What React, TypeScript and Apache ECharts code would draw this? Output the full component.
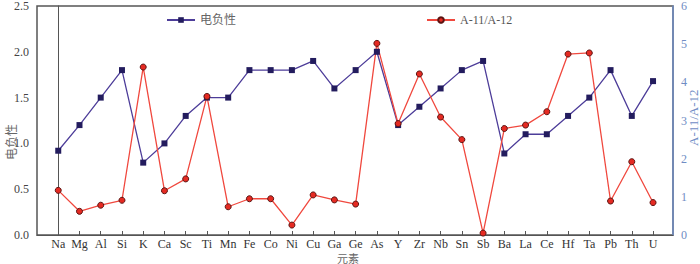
import React, { useEffect, useRef } from "react";
import * as echarts from "echarts";

const elements = ["Na","Mg","Al","Si","K","Ca","Sc","Ti","Mn","Fe","Co","Ni","Cu","Ga","Ge","As","Y","Zr","Nb","Sn","Sb","Ba","La","Ce","Hf","Ta","Pb","Th","U"];
const electronegativity = [0.92,1.2,1.5,1.8,0.79,1.0,1.3,1.5,1.5,1.8,1.8,1.8,1.9,1.6,1.8,2.0,1.2,1.4,1.6,1.8,1.9,0.89,1.1,1.1,1.3,1.5,1.8,1.3,1.68];
const ratioA11A12 = [1.17,0.62,0.78,0.91,4.40,1.16,1.47,3.63,0.74,0.95,0.95,0.26,1.05,0.92,0.81,5.02,2.92,4.22,3.09,2.5,0.05,2.79,2.88,3.23,4.74,4.77,0.89,1.92,0.85];

const SERIF = "'Liberation Serif', 'Noto Sans CJK SC', serif";

export default function App() {
  const ref = useRef<HTMLDivElement>(null);
  useEffect(() => {
    if (!ref.current) return;
    const chart = echarts.init(ref.current, null, { renderer: "svg" });
    const idx = elements.map((_, i) => i);
    chart.setOption({
      animation: false,
      backgroundColor: "#ffffff",
      grid: { left: 37, right: 27, top: 1, bottom: 29, show: true, borderColor: "#555", borderWidth: 1.5 },
      legend: [
        {
          data: ["电负性"], left: 161, top: 9, itemWidth: 28, itemHeight: 7, itemGap: 4,
          textStyle: { color: "#666", fontSize: 12, fontFamily: SERIF },
        },
        {
          data: ["A-11/A-12"], left: 421, top: 9, itemWidth: 28, itemHeight: 7, itemGap: 4,
          textStyle: { color: "#555", fontSize: 12, fontFamily: SERIF },
        },
      ],
      xAxis: {
        type: "value",
        min: -1,
        max: 28.94,
        splitLine: { show: false },
        axisLine: { lineStyle: { color: "#555" } },
        axisTick: { show: true, inside: true, length: 4, customValues: idx, lineStyle: { color: "#555" } },
        axisLabel: {
          customValues: idx,
          formatter: (v: number) => elements[Math.round(v)] ?? "",
          color: "#333", fontSize: 12, lineHeight: 12, fontFamily: SERIF, margin: 3,
        },
      },
      yAxis: [
        {
          type: "value", min: 0, max: 2.5, interval: 0.5,
          splitLine: { show: false },
          axisLine: { show: true, lineStyle: { color: "#555" } },
          axisTick: { show: false },
          axisLabel: { formatter: (v: number) => v.toFixed(1), color: "#444", fontSize: 12, fontFamily: SERIF, margin: 8 },
        },
        {
          type: "value", min: 0, max: 6, interval: 1, position: "right",
          splitLine: { show: false },
          axisLine: { show: true, lineStyle: { color: "#6f8cc4", width: 1.5 } },
          axisTick: { show: false },
          axisLabel: { color: "#6f8cc4", fontSize: 12, fontFamily: SERIF, margin: 8 },
        },
      ],
      graphic: [
        { type: "text", x: 4, y: 160, rotation: Math.PI / 2, style: { text: "电负性", fill: "#666", font: "12px 'Noto Sans CJK SC'" } },
        { type: "text", x: 687, y: 146, rotation: Math.PI / 2, style: { text: "A-11/A-12", fill: "#6f8cc4", font: "13px 'Liberation Serif'" } },
        { type: "text", x: 337, y: 252, style: { text: "元素", fill: "#666", font: "11px 'Noto Sans CJK SC'" } },
      ],
      series: [
        {
          name: "电负性", type: "line", yAxisIndex: 0,
          data: electronegativity.map((v, i) => [i, v]),
          symbol: "rect", symbolSize: 6,
          lineStyle: { color: "#4d3d99", width: 1.3 },
          itemStyle: { color: "#231c5e" },
        },
        {
          name: "A-11/A-12", type: "line", yAxisIndex: 1,
          data: ratioA11A12.map((v, i) => [i, v]),
          symbol: "circle", symbolSize: 6,
          lineStyle: { color: "#f0483e", width: 1.3 },
          itemStyle: { color: "#e52a22", borderColor: "#5a1412", borderWidth: 1 },
        },
      ],
    });
    return () => chart.dispose();
  }, []);
  return <div ref={ref} style={{ width: 700, height: 264, position: "absolute", left: 0, top: 0 }} />;
}
